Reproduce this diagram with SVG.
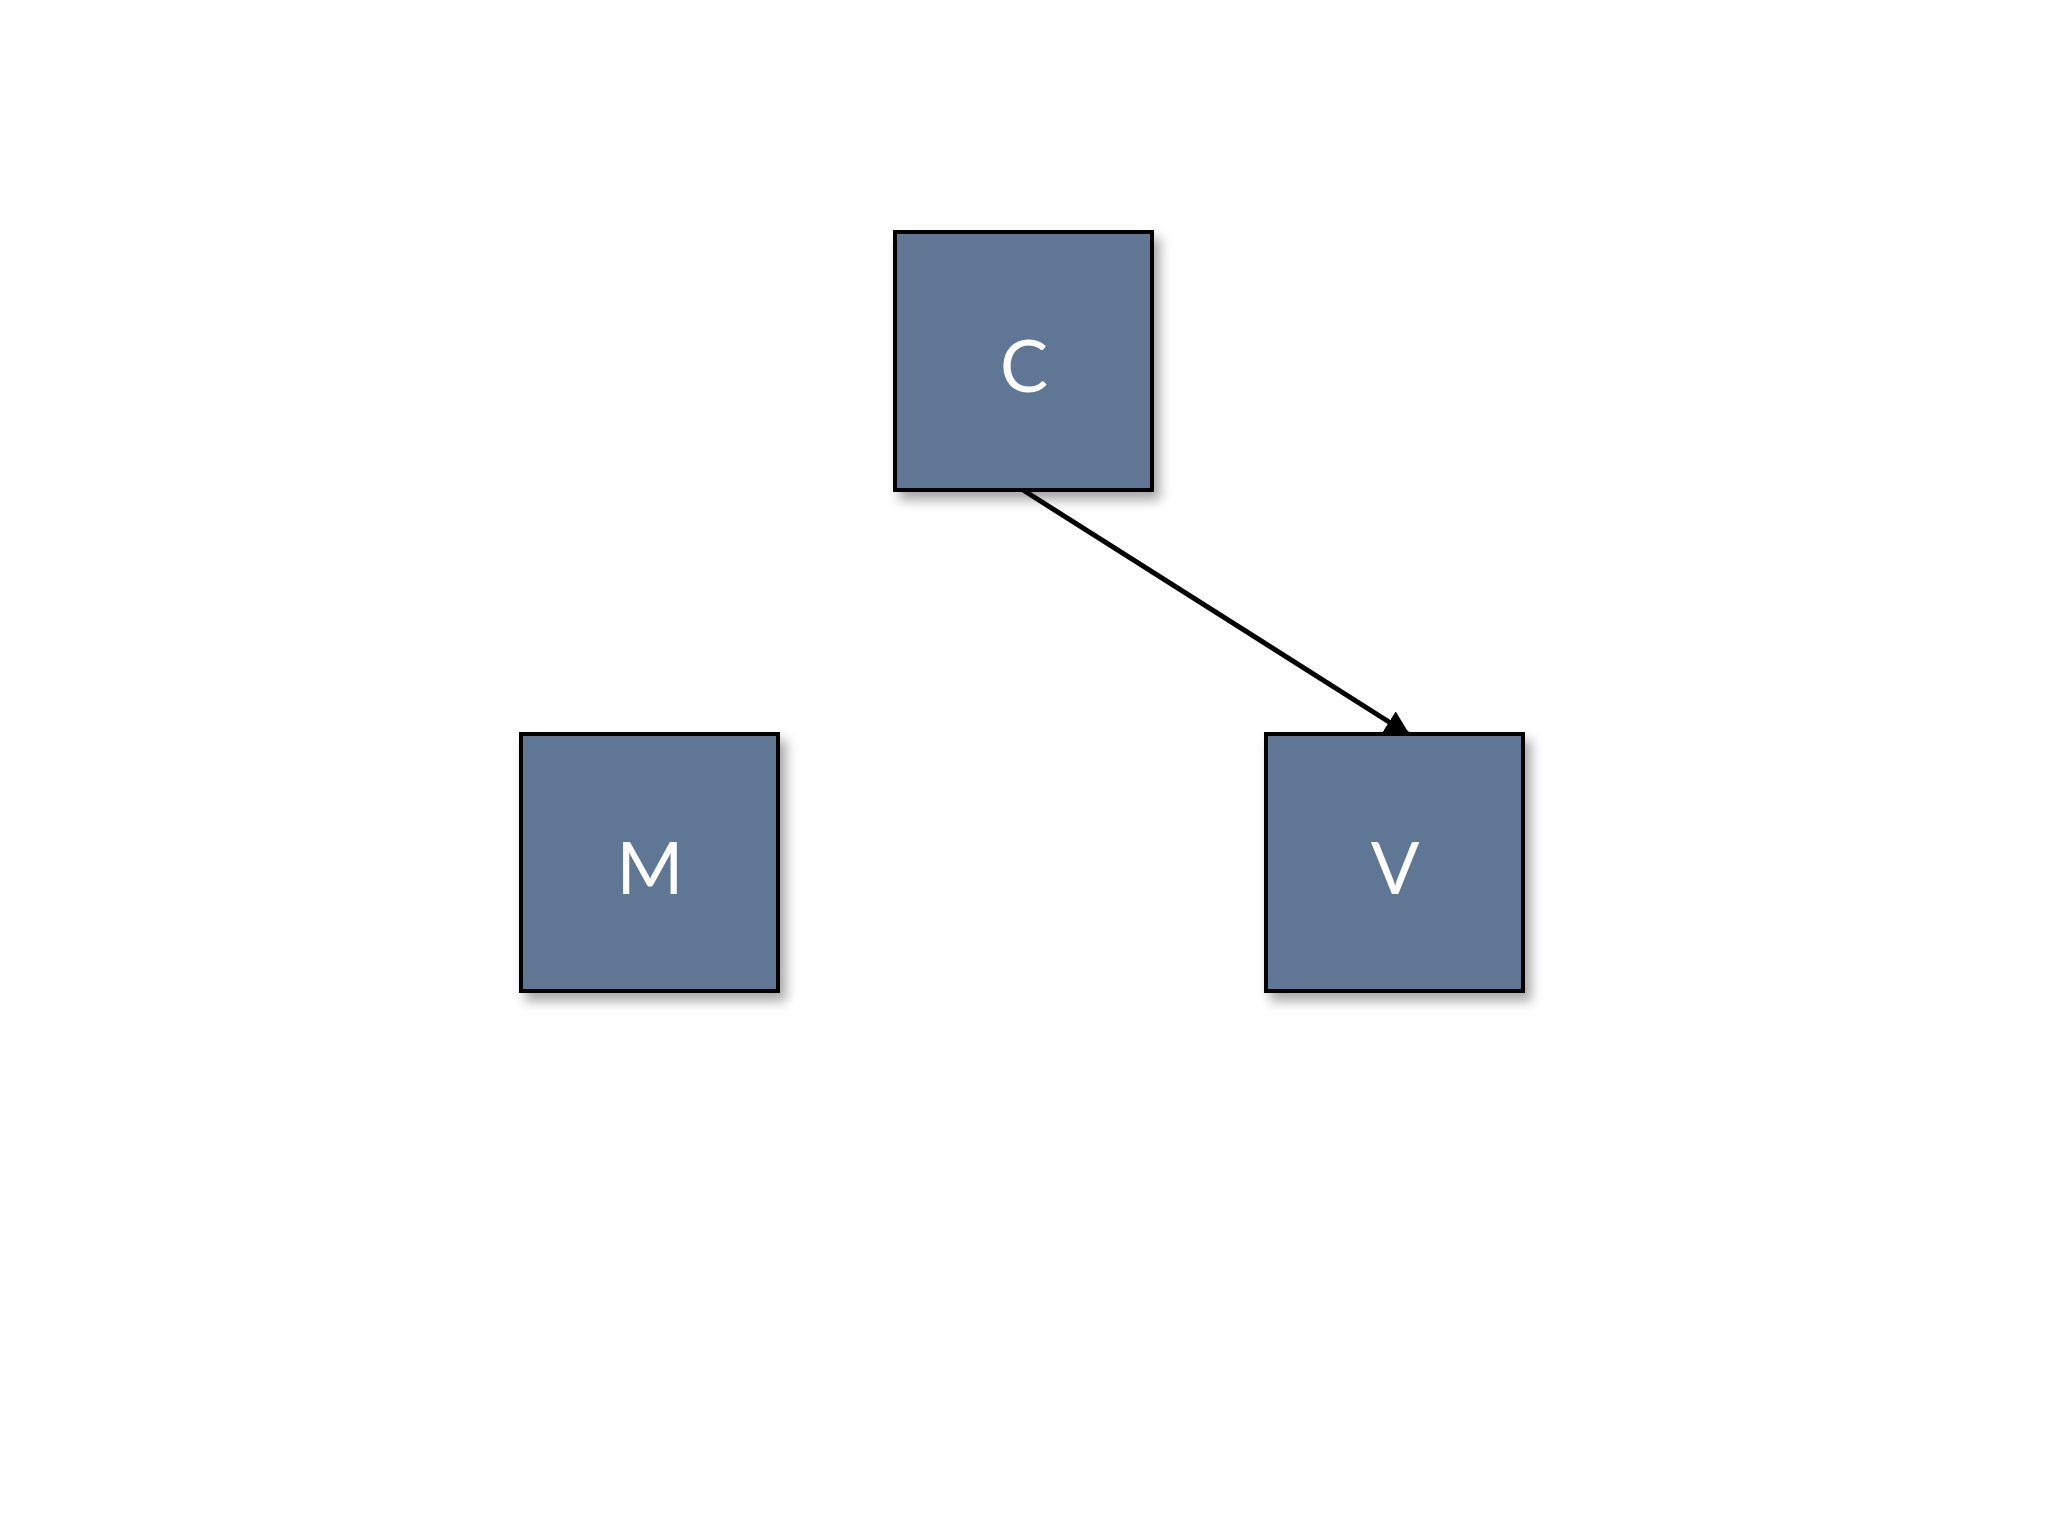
<svg xmlns="http://www.w3.org/2000/svg" width="2048" height="1536" viewBox="0 0 2048 1536">
<style>
.box{fill:#5f7794;stroke:#000;stroke-width:4}
.lbl{font-family:Lato,"Open Sans",sans-serif;font-size:72px;fill:#fff;text-anchor:middle;dominant-baseline:central}
</style>
<defs>
<filter id="sh" x="-20%" y="-20%" width="140%" height="140%"><feDropShadow dx="6" dy="8" stdDeviation="6" flood-color="#000" flood-opacity="0.35"/></filter>
<marker id="ah" viewBox="0 0 10 10" refX="9" refY="5" markerWidth="5" markerHeight="5" orient="auto"><path d="M0,0L10,5L0,10z" fill="#000"/></marker>
</defs>
<rect width="2048" height="1536" fill="#fff"/>
<g id="connectors">
<line x1="1023" y1="490" x2="1408" y2="734" stroke="#000" stroke-width="5" marker-end="url(#ah)"/>
</g>
<g id="C"><rect class="box" x="895" y="232" width="257" height="258" filter="url(#sh)"/><text class="lbl" x="1024" y="364">C</text></g>
<g id="M"><rect class="box" x="521" y="734" width="257" height="257" filter="url(#sh)"/><text class="lbl" x="650" y="866">M</text></g>
<g id="V"><rect class="box" x="1266" y="734" width="257" height="257" filter="url(#sh)"/><text class="lbl" x="1395" y="866">V</text></g>
</svg>
